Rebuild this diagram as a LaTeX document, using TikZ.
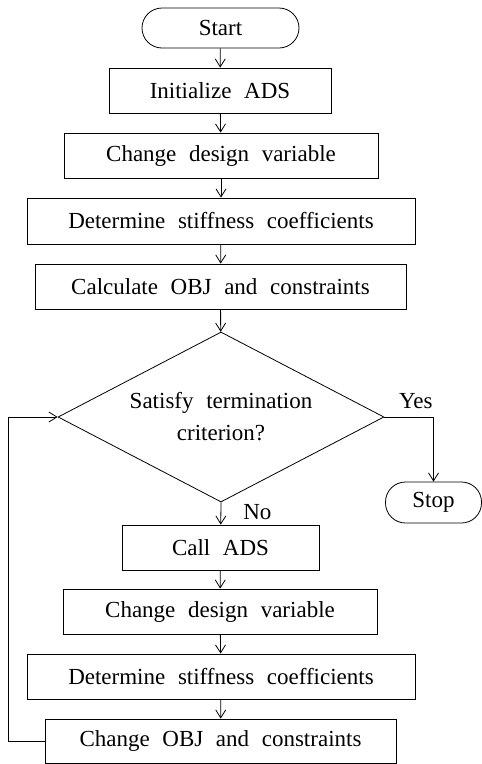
\documentclass[tikz,border=0pt]{standalone}
\usepackage{fontspec}
\setmainfont{Liberation Serif}
\usetikzlibrary{arrows.meta,shapes.geometric}
\newcommand\flowfont{\fontsize{23}{32}\selectfont\spaceskip=0.55em plus 0.1em\relax}

\begin{document}
\begin{tikzpicture}[x=1pt,y=-1pt,every node/.style={font=\flowfont,inner sep=0pt},procbox/.style={draw,line width=0.8pt,minimum height=45pt},termbox/.style={draw,line width=0.8pt,rounded corners=20pt,minimum height=40pt},flow/.style={-{Straight Barb[length=8pt,width=10pt]},line width=0.8pt}]
\useasboundingbox (0,0) rectangle (482,764);

% first pass
\node[termbox,minimum width=157pt] (start) at (220.5,28) {Start};
\node[procbox,minimum width=222pt] (init) at (220,90.5) {Initialize ADS};
\node[procbox,minimum width=314pt] (desvarA) at (221,155.5) {Change design variable};
\node[procbox,minimum width=388pt,minimum height=46pt] (stiffA) at (221,221) {Determine stiffness coefficients};
\node[procbox,minimum width=371pt] (calcobj) at (220.5,286.5) {Calculate OBJ and constraints};
\node[draw,diamond,line width=0.8pt,aspect=1.92,minimum width=326pt,minimum height=170pt,align=center] (test) at (221,417) {Satisfy termination\\criterion?};
\node[termbox,minimum width=96pt,minimum height=41pt] (stop) at (433.5,502.5) {Stop};
\draw[flow] (start) -- (init); \draw[flow] (init) -- (desvarA); \draw[flow] (desvarA) -- (stiffA); \draw[flow] (stiffA) -- (calcobj); \draw[flow] (calcobj) -- (test);
\draw[flow] (test.east) -| (stop.north) node[pos=0.32,above=8pt] {Yes};

% loop
\node[procbox,minimum width=197pt] (callads) at (220.5,547.5) {Call ADS};
\node[procbox,minimum width=314pt] (desvarB) at (220,611.5) {Change design variable};
\node[procbox,minimum width=388pt] (stiffB) at (221,676.5) {Determine stiffness coefficients};
\node[procbox,minimum width=351pt,minimum height=44pt] (chobj) at (220.5,741) {Change OBJ and constraints};
\draw[flow] (test.south) -- (callads) node[pos=0.45,right=22pt] {No};
\draw[flow] (callads) -- (desvarB); \draw[flow] (desvarB) -- (stiffB); \draw[flow] (stiffB) -- (chobj);
\coordinate (back) at (8,741);
\draw[flow] (chobj.west) -- (back) |- (test.west);

\end{tikzpicture}
\end{document}
